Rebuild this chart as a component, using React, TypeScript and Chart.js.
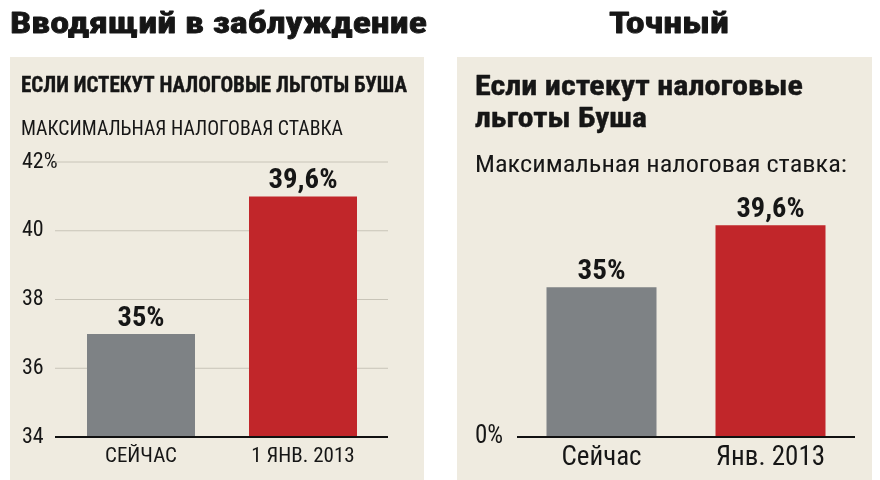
import React, { useEffect, useRef } from "react";
import { Chart, registerables } from "chart.js";

Chart.register(...registerables);

// ---------- data ----------
const mainTitles = ["Вводящий в заблуждение", "Точный"];

const leftTitle = "ЕСЛИ ИСТЕКУТ НАЛОГОВЫЕ ЛЬГОТЫ БУША";
const leftSubtitle = "МАКСИМАЛЬНАЯ НАЛОГОВАЯ СТАВКА";
const leftCategories = ["СЕЙЧАС", "1 ЯНВ. 2013"];
const leftBarHeights = [37, 41];
const leftValueLabels = ["35%", "39,6%"];
const leftTicks = [34, 36, 38, 40, 42];
const leftTickLabels = ["34", "36", "38", "40", "42%"];

const rightTitleLines = ["Если истекут налоговые", "льготы Буша"];
const rightSubtitle = "Максимальная налоговая ставка:";
const rightCategories = ["Сейчас", "Янв. 2013"];
const rightBarHeights = [35, 49.5];
const rightValueLabels = ["35%", "39,6%"];
const rightTicks = [0];
const rightTickLabels = ["0%"];

// ---------- styles ----------
const FAMILY = "'Roboto Condensed', 'DejaVu Sans Condensed', sans-serif";
const INK = "#161616";
const PANEL = "#efebe0";
const GRID = "#c8c4b8";
const AXIS = "#111111";
const barColors = ["#7e8285", "#c1262a"];

type TextSpec = {
  text: string;
  x: number;
  y: number;
  font: string;
  width?: number;
  align?: CanvasTextAlign;
  stroke?: number;
};

function drawFit(ctx: CanvasRenderingContext2D, t: TextSpec) {
  ctx.save();
  ctx.font = t.font;
  ctx.fillStyle = INK;
  ctx.strokeStyle = INK;
  ctx.textBaseline = "alphabetic";
  ctx.textAlign = t.align || "left";
  const w = ctx.measureText(t.text).width;
  const s = t.width ? t.width / w : 1;
  ctx.translate(t.x, t.y);
  ctx.scale(s, 1);
  ctx.fillText(t.text, 0, 0);
  if (t.stroke) {
    ctx.lineWidth = t.stroke;
    ctx.lineJoin = "round";
    ctx.strokeText(t.text, 0, 0);
  }
  ctx.restore();
}

function panelPlugin(rect: [number, number, number, number], texts: TextSpec[]) {
  return {
    id: "panel",
    beforeDraw(chart: any) {
      const ctx = chart.ctx as CanvasRenderingContext2D;
      ctx.save();
      ctx.fillStyle = "#ffffff";
      ctx.fillRect(0, 0, chart.width, chart.height);
      ctx.fillStyle = PANEL;
      ctx.fillRect(rect[0], rect[1], rect[2], rect[3]);
      ctx.restore();
      texts.forEach((t) => drawFit(ctx, t));
    },
  };
}

// grid lines + baseline drawn through the y scale, extended a little past the plot area
function rulesPlugin(ticks: number[], extendLeft: number, extendRight: number, showGrid: boolean) {
  const line = (chart: any, v: number, color: string, width: number) => {
    const ctx = chart.ctx as CanvasRenderingContext2D;
    const y = chart.scales.y.getPixelForValue(v);
    const a = chart.chartArea;
    ctx.save();
    ctx.strokeStyle = color;
    ctx.lineWidth = width;
    ctx.beginPath();
    ctx.moveTo(a.left - extendLeft, y);
    ctx.lineTo(a.right + extendRight, y);
    ctx.stroke();
    ctx.restore();
  };
  return {
    id: "rules",
    beforeDatasetsDraw(chart: any) {
      if (!showGrid) return;
      ticks.slice(1).forEach((v) => line(chart, v, GRID, 1));
    },
    afterDatasetsDraw(chart: any) {
      line(chart, ticks[0], AXIS, 2);
    },
  };
}

function valueLabelPlugin(labels: string[], font: string, widths: number[]) {
  return {
    id: "valueLabels",
    afterDatasetsDraw(chart: any) {
      const ctx = chart.ctx as CanvasRenderingContext2D;
      const meta = chart.getDatasetMeta(0);
      meta.data.forEach((bar: any, i: number) => {
        drawFit(ctx, {
          text: labels[i],
          x: bar.x,
          y: bar.y - 8,
          font,
          width: widths[i],
          align: "center",
        });
      });
    },
  };
}

function LeftChart() {
  const ref = useRef<HTMLCanvasElement>(null);
  useEffect(() => {
    const chart = new Chart(ref.current!, {
      type: "bar",
      data: {
        labels: leftCategories,
        datasets: [
          {
            data: leftBarHeights,
            backgroundColor: barColors,
            borderWidth: 0,
            barPercentage: 108 / 162,
            categoryPercentage: 1,
          },
        ],
      },
      options: {
        responsive: false,
        animation: false,
        events: [],
        layout: { padding: { left: 22, right: 56, top: 162, bottom: 0 } },
        plugins: { legend: { display: false }, tooltip: { enabled: false } },
        scales: {
          x: {
            grid: { display: false, drawTicks: false },
            border: { display: false },
            ticks: {
              font: { family: FAMILY, size: 21 },
              color: INK,
              padding: 7,
            },
            afterFit: (s: any) => {
              s.height = 43;
            },
          },
          y: {
            min: 34,
            max: 42,
            afterBuildTicks: (s: any) => {
              s.ticks = leftTicks.map((v) => ({ value: v }));
            },
            afterFit: (s: any) => {
              s.width = 38;
            },
            border: { display: false },
            grid: { display: false, drawTicks: false },
            ticks: {
              crossAlign: "far",
              padding: 0,
              font: { family: FAMILY, size: 22 },
              color: INK,
              callback: (_v: any, i: number) => leftTickLabels[i],
            },
          },
        },
      },
      plugins: [
        panelPlugin(
          [10, 57, 414, 423],
          [
            { text: mainTitles[0], x: 10, y: 33, font: `bold 30px ${FAMILY}`, width: 417, stroke: 0.8 },
            { text: leftTitle, x: 21, y: 92, font: `bold 22px ${FAMILY}`, width: 386, stroke: 0.4 },
            { text: leftSubtitle, x: 21, y: 135, font: `20px ${FAMILY}`, width: 322 },
          ]
        ),
        rulesPlugin(leftTicks, 5, 4, true),
        valueLabelPlugin(leftValueLabels, `bold 27px ${FAMILY}`, [47, 69]),
      ],
    } as any);
    return () => chart.destroy();
  }, []);
  return (
    <canvas
      ref={ref}
      width={440}
      height={480}
      style={{ position: "absolute", left: 0, top: 0, width: 440, height: 480 }}
    />
  );
}

function RightChart() {
  const ref = useRef<HTMLCanvasElement>(null);
  useEffect(() => {
    const chart = new Chart(ref.current!, {
      type: "bar",
      data: {
        labels: rightCategories,
        datasets: [
          {
            data: rightBarHeights,
            backgroundColor: barColors,
            borderWidth: 0,
            barPercentage: 110 / 169,
            categoryPercentage: 1,
          },
        ],
      },
      options: {
        responsive: false,
        animation: false,
        events: [],
        layout: { padding: { left: 35, right: 25, top: 223, bottom: 0 } },
        plugins: { legend: { display: false }, tooltip: { enabled: false } },
        scales: {
          x: {
            grid: { display: false, drawTicks: false },
            border: { display: false },
            ticks: {
              font: { family: FAMILY, size: 27 },
              color: INK,
              padding: 5,
            },
            afterFit: (s: any) => {
              s.height = 43;
            },
          },
          y: {
            min: 0,
            max: 50,
            afterBuildTicks: (s: any) => {
              s.ticks = rightTicks.map((v) => ({ value: v }));
            },
            afterFit: (s: any) => {
              s.width = 42;
            },
            border: { display: false },
            grid: { display: false, drawTicks: false },
            ticks: {
              crossAlign: "far",
              padding: 0,
              font: { family: FAMILY, size: 25 },
              color: INK,
              callback: (_v: any, i: number) => rightTickLabels[i],
            },
          },
        },
      },
      plugins: [
        panelPlugin(
          [17, 57, 415, 423],
          [
            { text: mainTitles[1], x: 229, y: 33, font: `bold 30px ${FAMILY}`, width: 120, align: "center", stroke: 0.8 },
            { text: rightTitleLines[0], x: 35, y: 95, font: `bold 28px ${FAMILY}`, width: 328, stroke: 0.4 },
            { text: rightTitleLines[1], x: 35, y: 127, font: `bold 28px ${FAMILY}`, width: 172, stroke: 0.4 },
            { text: rightSubtitle, x: 35, y: 172, font: `24px ${FAMILY}`, width: 372 },
          ]
        ),
        rulesPlugin(rightTicks, 0, 0, false),
        valueLabelPlugin(rightValueLabels, `bold 27px ${FAMILY}`, [48, 68]),
      ],
    } as any);
    return () => chart.destroy();
  }, []);
  return (
    <canvas
      ref={ref}
      width={440}
      height={480}
      style={{ position: "absolute", left: 440, top: 0, width: 440, height: 480 }}
    />
  );
}

export default function App() {
  return (
    <div style={{ position: "absolute", left: 0, top: 0, width: 880, height: 480, background: "#ffffff" }}>
      <LeftChart />
      <RightChart />
    </div>
  );
}
